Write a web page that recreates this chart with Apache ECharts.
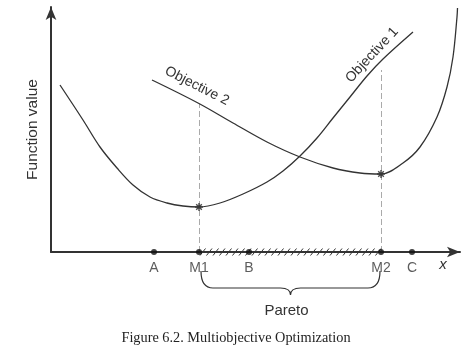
<!DOCTYPE html>
<html>
<head>
<meta charset="utf-8">
<script src="https://cdn.jsdelivr.net/npm/echarts@6/dist/echarts.min.js"></script>
<style>html,body{margin:0;padding:0;background:#fff}#c{width:472px;height:351px}</style>
</head>
<body>
<div id="c"></div>
<script>
// Points marked on the x axis
const pointLabels = ['A', 'M1', 'B', 'M2', 'C'];
const pointX = [103, 148, 198, 330, 361];
// Objective 1 curve (minimum at M1)
const obj1X = [9, 32, 49, 66, 82, 99, 116, 132, 148, 169, 192, 216, 232, 249, 266, 282, 299, 316, 332, 362];
const obj1Y = [167, 132, 105, 84, 67, 55, 49, 46, 45, 49, 58, 70, 81, 96, 114, 134, 155, 176, 193, 220];
// Objective 2 curve (minimum at M2)
const obj2X = [101, 147, 182, 216, 249, 282, 309, 330, 352, 369, 386, 396, 402, 406, 406.5];
const obj2Y = [172, 149, 129, 110, 95, 84, 79, 78, 89, 105, 135, 165, 195, 235, 244];
// Minima (asterisks) and the dashed guide line tops
const minimaX = [148, 330];
const minimaY = [45, 78];
const guideTop = [148, 182];
// Pareto range
const paretoFrom = 148, paretoTo = 330;

const dark = '#333';
const chart = echarts.init(document.getElementById('c'));

const hatch = [];
for (let x = paretoFrom + 3.5; x < paretoTo - 2; x += 6.5) hatch.push([x, 0]);

const asterisk = 'path://M5,0L5,10M0,5L10,5M1.5,1.5L8.5,8.5M8.5,1.5L1.5,8.5';

chart.setOption({
  animation: false,
  title: {
    text: 'Figure 6.2. Multiobjective Optimization',
    left: 'center', top: 326,
    textStyle: { fontFamily: 'Liberation Serif', fontSize: 14.3, fontWeight: 'normal', color: '#222' }
  },
  grid: { left: 51, top: 7, width: 409, height: 245 },
  xAxis: {
    type: 'value', min: 0, max: 409,
    splitLine: { show: false }, axisTick: { show: false }, axisLabel: { show: false },
    axisLine: { lineStyle: { color: dark, width: 2 }, symbol: ['none', 'arrow'], symbolSize: [8, 13] }
  },
  yAxis: {
    type: 'value', min: 0, max: 245,
    name: 'Function value', nameLocation: 'middle', nameGap: 10,
    nameTextStyle: { fontFamily: 'Liberation Sans', fontSize: 15.5, color: dark },
    splitLine: { show: false }, axisTick: { show: false }, axisLabel: { show: false },
    axisLine: { lineStyle: { color: dark, width: 2 }, symbol: ['none', 'arrow'], symbolSize: [8, 13] }
  },
  series: [
    {
      type: 'line', smooth: 0.35, showSymbol: false, silent: true,
      data: obj1X.map((x, i) => [x, obj1Y[i]]),
      lineStyle: { color: dark, width: 1.3 }
    },
    {
      type: 'line', smooth: 0.35, showSymbol: false, silent: true,
      data: obj2X.map((x, i) => [x, obj2Y[i]]),
      lineStyle: { color: dark, width: 1.3 }
    },
    {
      type: 'lines', coordinateSystem: 'cartesian2d', silent: true,
      data: minimaX.map((x, i) => ({ coords: [[x, 0], [x, guideTop[i]]] })),
      lineStyle: { color: '#555', width: 1, type: [6, 3] }
    },
    {
      type: 'custom', clip: false, silent: true,
      data: hatch,
      renderItem: (params, api) => {
        const p = api.coord([api.value(0), api.value(1)]);
        return { type: 'line', shape: { x1: p[0] - 2.5, y1: p[1] + 3.5, x2: p[0] + 3, y2: p[1] - 3.5 },
          style: { stroke: '#333', lineWidth: 1 } };
      }
    },
    {
      type: 'scatter', silent: true, symbol: 'circle', symbolSize: 6,
      data: pointX.map((x, i) => ({ value: [x, 0], name: pointLabels[i] })),
      itemStyle: { color: '#111' },
      label: { show: true, position: 'bottom', distance: 6, formatter: '{b}',
        fontFamily: 'Liberation Sans', fontSize: 14, color: dark }
    },
    {
      type: 'scatter', silent: true, symbol: asterisk, symbolSize: 8,
      data: minimaX.map((x, i) => [x, minimaY[i]]),
      itemStyle: { color: 'none', borderColor: '#222', borderWidth: 1.4 }
    },
    {
      type: 'custom', clip: false, silent: true,
      data: [[paretoFrom, paretoTo]],
      renderItem: (params, api) => {
        const l = api.coord([api.value(0), 0]);
        const r = api.coord([api.value(1), 0]);
        const L = l[0] + 2, R = r[0] - 1, y0 = l[1];
        const top = y0 + 19, bar = y0 + 36, tip = y0 + 43, mid = (L + R) / 2;
        const d = `M${L},${top} Q${L},${bar} ${L + 12},${bar} L${mid - 10},${bar} Q${mid},${bar} ${mid},${tip} ` +
          `Q${mid},${bar} ${mid + 10},${bar} L${R - 12},${bar} Q${R},${bar} ${R},${top}`;
        return {
          type: 'group', children: [
            { type: 'path', shape: { pathData: d }, style: { fill: 'none', stroke: dark, lineWidth: 1.2 } },
            { type: 'text', x: mid - 4, y: y0 + 59, style: { text: 'Pareto', fontFamily: 'Liberation Sans', fontSize: 15,
              fill: dark, align: 'center', verticalAlign: 'middle' } }
          ]
        };
      }
    }
  ],
  graphic: [
    { type: 'text', x: 443, y: 265, style: { text: 'x', fontFamily: 'Liberation Sans', fontStyle: 'italic', fontSize: 15,
      fill: dark, align: 'center', verticalAlign: 'middle' } },
    { type: 'text', x: 197, y: 86, rotation: -27 * Math.PI / 180, style: { text: 'Objective 2', fontFamily: 'Liberation Sans',
      fontSize: 14, fill: dark, align: 'center', verticalAlign: 'middle' } },
    { type: 'text', x: 372, y: 55, rotation: 47 * Math.PI / 180, style: { text: 'Objective 1', fontFamily: 'Liberation Sans',
      fontSize: 14, fill: dark, align: 'center', verticalAlign: 'middle' } }
  ]
});
</script>
</body>
</html>
